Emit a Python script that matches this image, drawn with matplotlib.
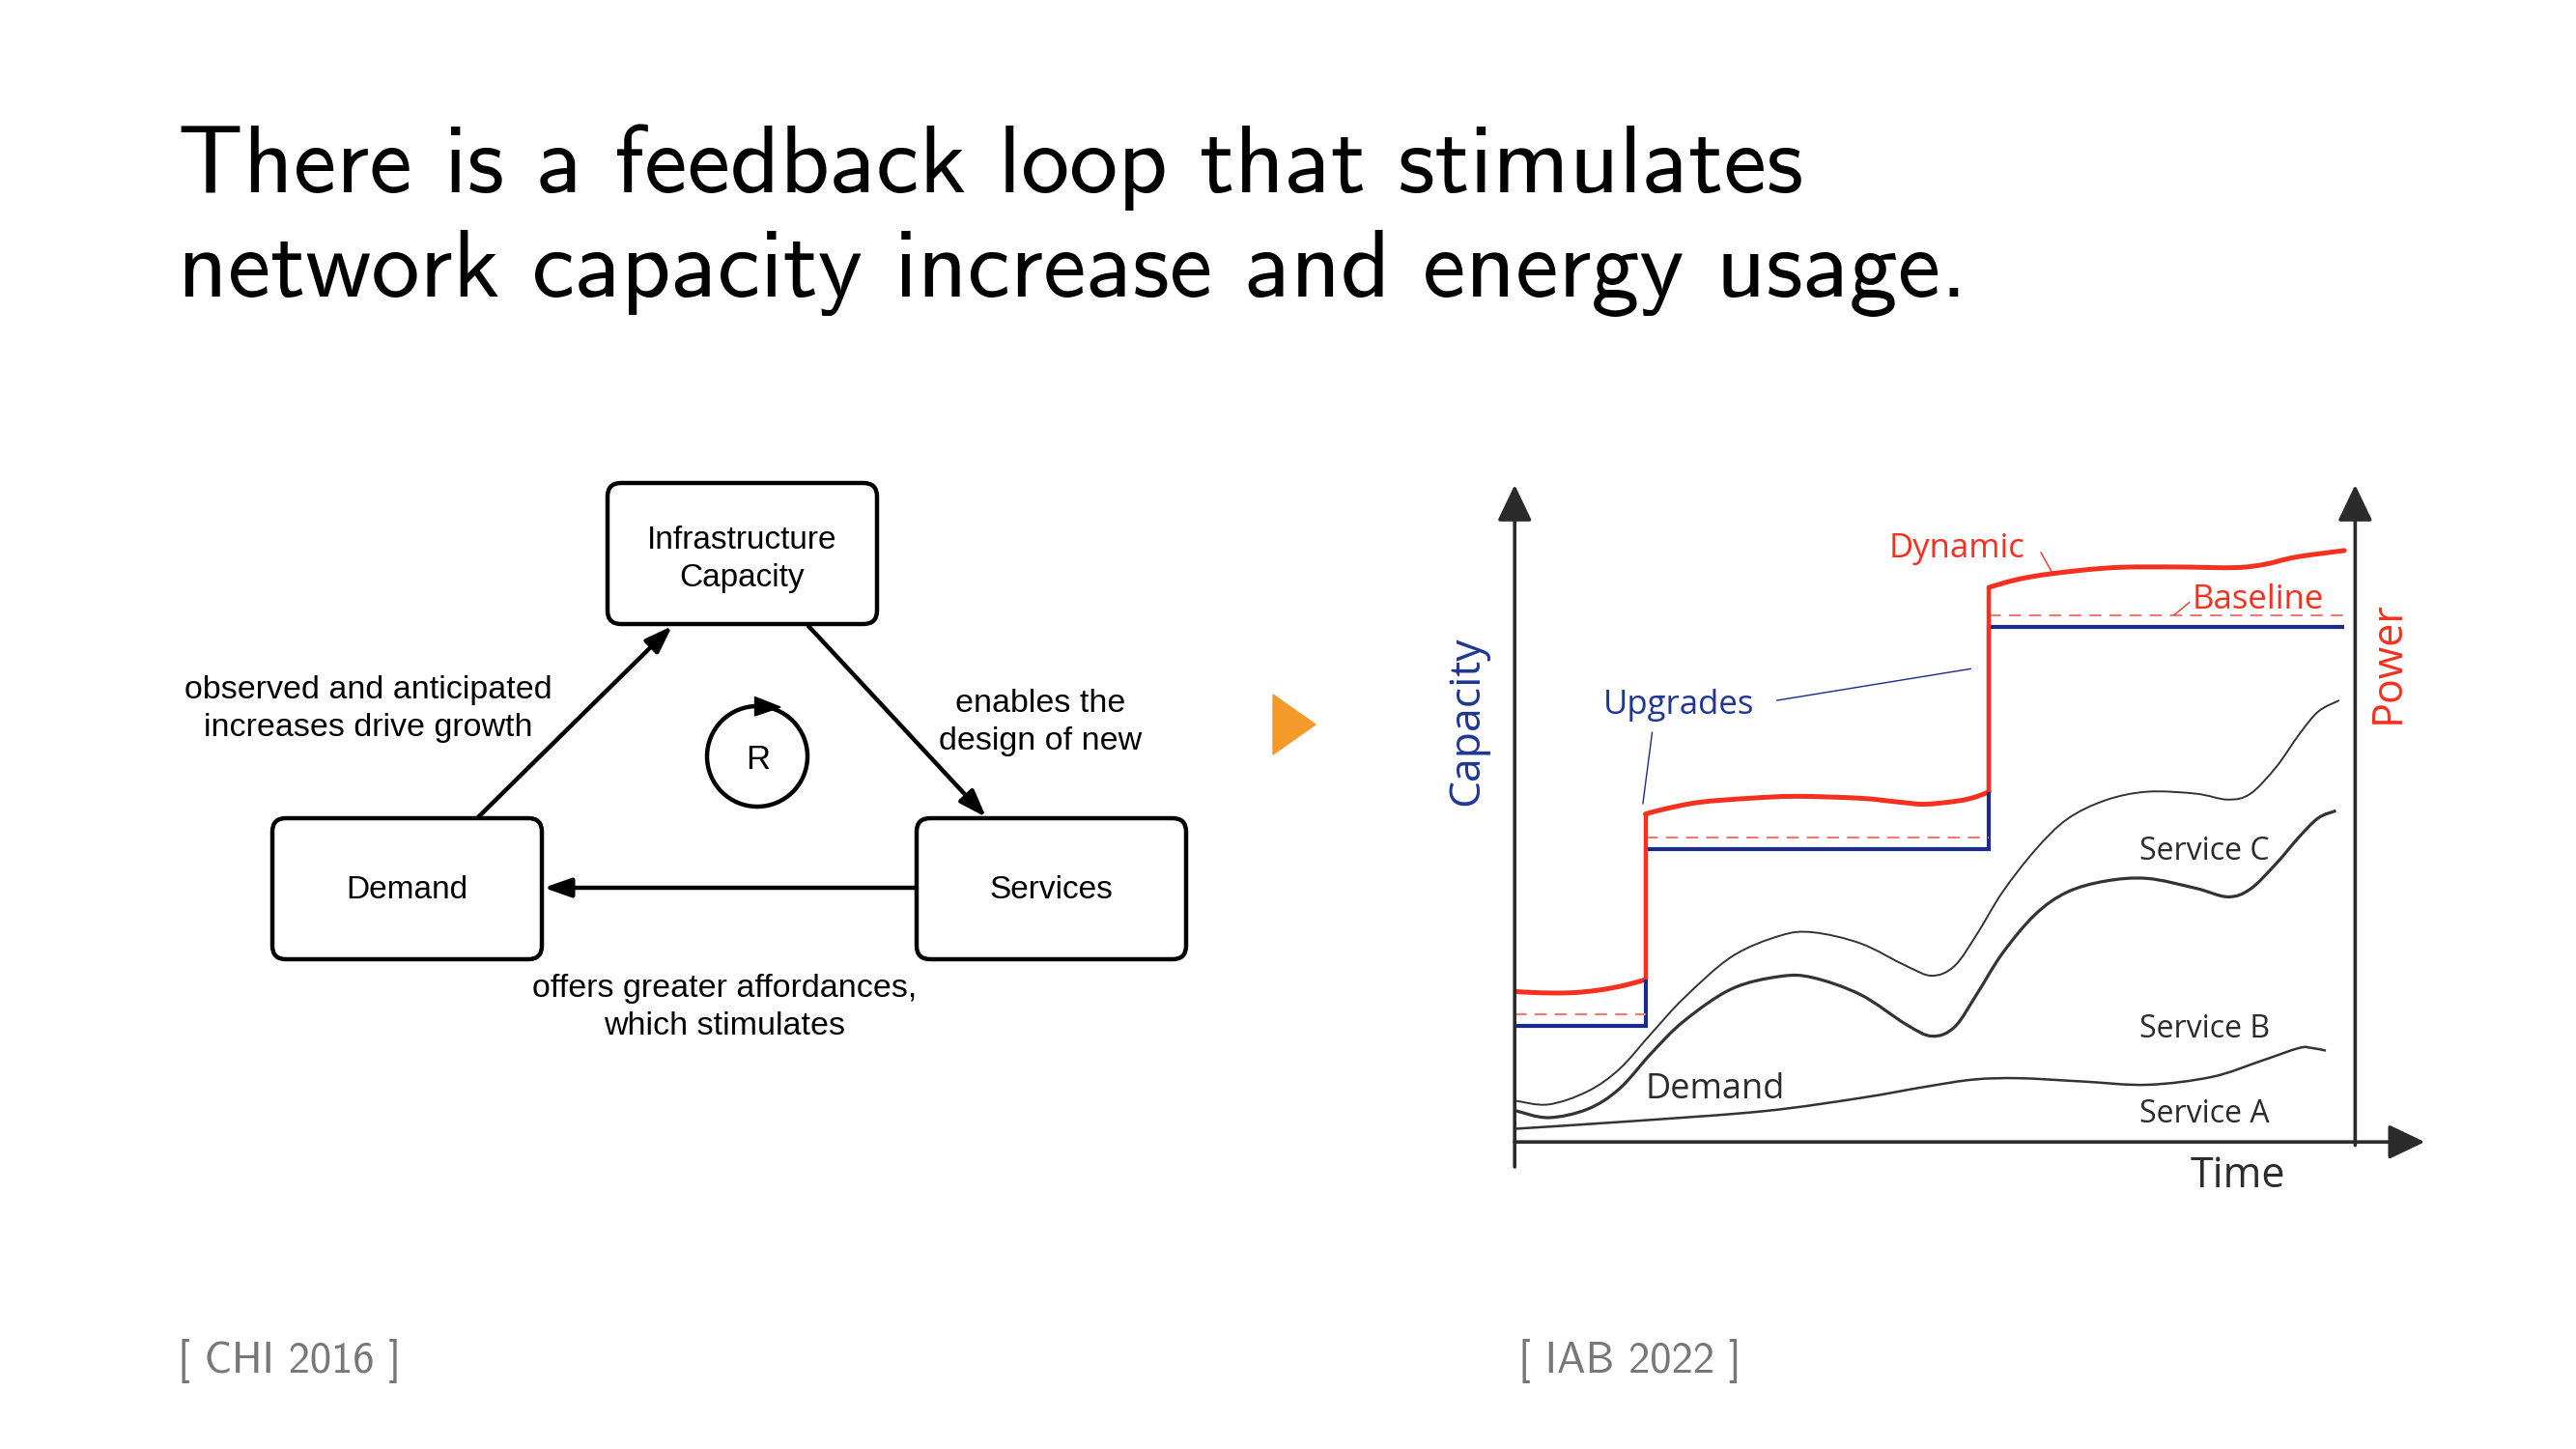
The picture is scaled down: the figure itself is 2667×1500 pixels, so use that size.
import matplotlib
matplotlib.use("Agg")
import matplotlib.pyplot as plt
from matplotlib.patches import FancyBboxPatch, Circle, Polygon, PathPatch
from matplotlib.path import Path
import numpy as np

W, H = 2667, 1500

# ---- right chart data (time 0..10, capacity/power 0..10) ----
upgrade_t = [0, 1.56, 5.66, 9.9]
capacity = [1.77, 4.45, 7.84]
baseline_power = [1.95, 4.63, 8.02]

dyn1_t = [0, 0.3, 0.67, 1.0, 1.3, 1.56]
dyn1_v = [2.29, 2.27, 2.27, 2.31, 2.38, 2.47]
dyn2_t = [1.56, 1.8, 2.21, 2.8, 3.36, 4.13, 4.6, 4.9, 5.29, 5.5, 5.66]
dyn2_v = [4.99, 5.07, 5.17, 5.23, 5.26, 5.23, 5.17, 5.14, 5.19, 5.25, 5.33]
dyn3_t = [5.66, 6.0, 6.42, 7.14, 7.87, 8.59, 8.95, 9.32, 9.9]
dyn3_v = [8.44, 8.56, 8.65, 8.74, 8.75, 8.74, 8.79, 8.9, 9.0]

svc_t = [0.0, 0.4, 0.87, 1.25, 1.63, 2.02, 2.59, 3.17, 3.56, 4.13, 4.67, 4.98, 5.25,
         5.52, 5.82, 6.21, 6.59, 7.05, 7.55, 8.13, 8.51, 8.78, 9.09, 9.36, 9.59]
svc_c_v = [0.63, 0.57, 0.77, 1.11, 1.65, 2.19, 2.82, 3.14, 3.19, 3.02, 2.68, 2.53, 2.68,
           3.17, 3.80, 4.44, 4.91, 5.20, 5.33, 5.30, 5.21, 5.30, 5.71, 6.20, 6.55]
svc_b_v = [0.48, 0.37, 0.50, 0.81, 1.35, 1.84, 2.33, 2.52, 2.50, 2.24, 1.79, 1.61, 1.75,
           2.26, 2.87, 3.46, 3.80, 3.97, 4.01, 3.86, 3.73, 3.85, 4.24, 4.64, 4.93]
svc_c_end = (9.84, 6.72)
svc_b_end = (9.80, 5.04)
svc_a_t = [0.0, 1.44, 2.98, 4.13, 4.9, 5.48, 6.02, 6.78, 7.55, 8.32, 8.9, 9.36, 9.51, 9.68]
svc_a_v = [0.20, 0.32, 0.47, 0.67, 0.84, 0.95, 0.97, 0.92, 0.87, 0.99, 1.23, 1.43, 1.43, 1.39]

RED = '#f5301e'
BLUE = '#1b2a8e'
DARK = '#2b2b2b'


def smooth_path(t, v):
    # catmull-rom through the read points, drawn as bezier curves
    p = np.column_stack([t, v])
    pts = np.vstack([p[0], p, p[-1]])
    verts = [p[0]]
    codes = [Path.MOVETO]
    for i in range(1, len(pts) - 2):
        c1 = pts[i] + (pts[i + 1] - pts[i - 1]) / 6
        c2 = pts[i + 1] - (pts[i + 2] - pts[i]) / 6
        verts += [c1, c2, pts[i + 1]]
        codes += [Path.CURVE4] * 3
    return Path(verts, codes)


fig = plt.figure(figsize=(W / 100, H / 100), dpi=100)
lay = fig.add_axes([0, 0, 1, 1])
lay.set_xlim(0, W)
lay.set_ylim(H, 0)
lay.axis('off')

title_font = ['cmss10', 'DejaVu Sans']
lay.text(184, 199, 'There is a feedback loop that stimulates', fontsize=72,
         family=title_font, va='baseline')
lay.text(184, 307, 'network capacity increase and energy usage.', fontsize=72,
         family=title_font, va='baseline')
lay.text(184, 1421, '[ CHI 2016 ]', fontsize=32, family=title_font, color='#777777', va='baseline')
lay.text(1572, 1421, '[ IAB 2022 ]', fontsize=32, family=title_font, color='#777777', va='baseline')

# ---- left: feedback loop diagram ----
dfont = 'Liberation Sans'
boxes = {'Infrastructure\nCapacity': (629, 500), 'Demand': (282, 847), 'Services': (949, 847)}
for label, (x0, y0) in boxes.items():
    lay.add_patch(FancyBboxPatch((x0, y0), 279, 146, boxstyle='round,pad=0,rounding_size=14',
                                 lw=3.2, ec='black', fc='white'))
    shift = 5 if '\n' in label else 1
    lay.text(x0 + 139.5, y0 + 74 + shift, label, ha='center', va='center', fontsize=24,
             family=dfont, linespacing=1.3)

arrow = dict(arrowstyle='-|>,head_length=1.7,head_width=0.6', mutation_scale=10,
             lw=3.2, color='black', shrinkA=0, shrinkB=0)
lay.annotate('', xy=(696, 648), xytext=(495, 846), arrowprops=arrow)
lay.annotate('', xy=(1021, 846), xytext=(837, 648), arrowprops=arrow)
lay.annotate('', xy=(563, 919), xytext=(949, 919), arrowprops=arrow)

lay.add_patch(Circle((784, 783), 52, fill=False, lw=3.2, ec='black'))
lay.add_patch(Polygon([(808, 732), (781.5, 721.5), (781.5, 741)], closed=True, color='black'))
lay.text(785, 786, 'R', ha='center', va='center', fontsize=25, family=dfont)

lay.text(381, 734, 'observed and anticipated\nincreases drive growth', ha='center', va='center',
         fontsize=24.5, family=dfont, linespacing=1.3)
lay.text(1077, 748, 'enables the\ndesign of new', ha='center', va='center',
         fontsize=24.5, family=dfont, linespacing=1.3)
lay.text(750, 1043, 'offers greater affordances,\nwhich stimulates', ha='center', va='center',
         fontsize=24.5, family=dfont, linespacing=1.3)

lay.add_patch(Polygon([(1318, 719), (1318, 781), (1362, 750)], closed=True, color='#f39a2b'))

# ---- right: capacity / power chart ----
ax = fig.add_axes([0.588, 0.2119, 0.3253, 0.4535])
ax.set_xlim(0, 10)
ax.set_ylim(0, 10)
ax.axis('off')

ax_arrow = dict(arrowstyle='-|>,head_length=2.3,head_width=1.1', mutation_scale=10,
                lw=2.6, color=DARK, shrinkA=0, shrinkB=0)
ax.annotate('', xy=(0, 10), xytext=(0, -0.38), arrowprops=ax_arrow, annotation_clip=False)
ax.annotate('', xy=(10.03, 10), xytext=(10.03, -0.05), arrowprops=ax_arrow, annotation_clip=False)
ax.annotate('', xy=(10.86, 0), xytext=(0, 0), arrowprops=ax_arrow, annotation_clip=False)

# power: baseline (dashed) and dynamic
ax.hlines(baseline_power, upgrade_t[:-1], upgrade_t[1:], colors='#f07a70', lw=1.5,
          linestyles=(0, (6, 4)))
dyn_segments = [(dyn1_t, dyn1_v), (dyn2_t, dyn2_v), (dyn3_t, dyn3_v)]
for t, v in dyn_segments:
    ax.add_patch(PathPatch(smooth_path(t, v), fill=False, ec=RED, lw=3.6, capstyle='round'))
ax.vlines([dyn2_t[0], dyn3_t[0]], [dyn1_v[-1], dyn2_v[-1]], [dyn2_v[0], dyn3_v[0]],
          colors=RED, lw=3.2)

# capacity upgrades
ax.stairs(capacity, upgrade_t, baseline=None, color=BLUE, lw=3.0)

# services
ax.add_patch(PathPatch(smooth_path(svc_t + [svc_c_end[0]], svc_c_v + [svc_c_end[1]]),
                       fill=False, ec='#333333', lw=1.4))
ax.add_patch(PathPatch(smooth_path(svc_t + [svc_b_end[0]], svc_b_v + [svc_b_end[1]]),
                       fill=False, ec='#333333', lw=2.3))
ax.add_patch(PathPatch(smooth_path(svc_a_t, svc_a_v), fill=False, ec='#333333', lw=1.8))

cfont = 'Open Sans'
ax.text(-0.57, 6.41, 'Capacity', rotation=90, ha='center', va='center', fontsize=32,
        family=cfont, color='#1f3694')
ax.text(10.42, 7.3, 'Power', rotation=90, ha='center', va='center', fontsize=31,
        family=cfont, color=RED)
ax.text(8.63, -0.53, 'Time', ha='center', va='center', fontsize=31, family=cfont, color=DARK)
ax.text(1.06, 6.52, 'Upgrades', ha='left', va='baseline', fontsize=25, family=cfont, color='#1f3694')
ax.text(4.47, 8.9, 'Dynamic', ha='left', va='baseline', fontsize=25, family=cfont, color=RED)
ax.text(8.09, 8.11, 'Baseline', ha='left', va='baseline', fontsize=25, family=cfont, color=RED)
ax.text(1.56, 0.67, 'Demand', ha='left', va='baseline', fontsize=26, family=cfont, color=DARK)
ax.text(7.45, 4.29, 'Service C', ha='left', va='baseline', fontsize=23, family=cfont, color=DARK)
ax.text(7.45, 1.59, 'Service B', ha='left', va='baseline', fontsize=23, family=cfont, color=DARK)
ax.text(7.45, 0.29, 'Service A', ha='left', va='baseline', fontsize=23, family=cfont, color=DARK)

# leader lines
ax.plot([1.64, 1.53], [6.23, 5.15], color=BLUE, lw=1)
ax.plot([3.13, 5.44], [6.72, 7.2], color=BLUE, lw=1)
ax.plot([6.28, 6.42], [8.97, 8.65], color=RED, lw=1)
ax.plot([8.05, 7.87], [8.21, 8.02], color=RED, lw=1)

fig.savefig('out.png', dpi=100)
